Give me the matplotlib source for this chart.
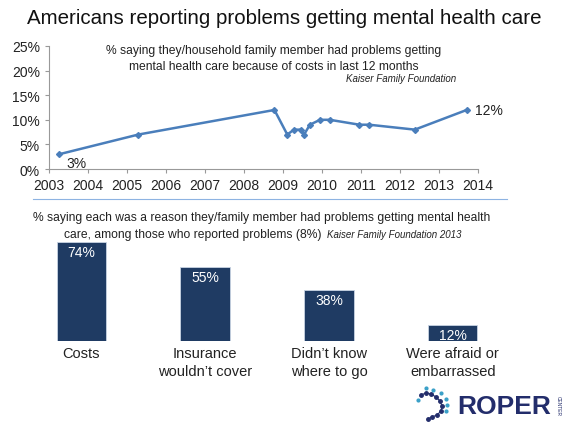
import numpy as np
import matplotlib.pyplot as plt

plt.rcParams['font.family'] = ['Liberation Sans', 'DejaVu Sans']

# line chart data (year, share)
years = [2003.26, 2005.29, 2008.78, 2009.11, 2009.28, 2009.45, 2009.54,
         2009.69, 2009.95, 2010.2, 2010.96, 2011.21, 2012.38, 2013.71]
shares = [0.03, 0.07, 0.12, 0.07, 0.08, 0.08, 0.07,
          0.09, 0.10, 0.10, 0.09, 0.09, 0.08, 0.12]
year_ticks = list(range(2003, 2015))

# bar chart data
reasons = ['Costs', 'Insurance\nwouldn\u2019t cover', 'Didn\u2019t know\nwhere to go',
           'Were afraid or\nembarrassed']
reason_pct = [74, 55, 38, 12]

line_col = '#4a7ebb'
bar_col = '#1f3b63'
navy = '#232d6b'

fig = plt.figure(figsize=(5.7, 4.27), dpi=100)
fig.patch.set_facecolor('white')

fig.text(27/570, 1 - 18/427, 'Americans reporting problems getting mental health care',
         fontsize=14.8, va='center', ha='left', color='#111111')

#line chart
ax = fig.add_axes([49/570, 1 - 170/427, 429/570, 123/427])
ax.plot(years, shares, color=line_col, lw=1.8, marker='D', ms=3, mec=line_col, mfc=line_col)
ax.set_xlim(2003, 2014)
ax.set_ylim(0, 0.25)
ax.set_xticks(year_ticks)
ax.set_yticks(np.arange(0, 0.26, 0.05))
ax.set_yticklabels([f'{int(round(v*100))}%' for v in np.arange(0, 0.26, 0.05)])
ax.tick_params(labelsize=10, length=3, color='#999999', labelcolor='#222222')
for s in ['top', 'right']:
    ax.spines[s].set_visible(False)
for s in ['left', 'bottom']:
    ax.spines[s].set_color('#999999')
ax.annotate(f'{int(shares[0]*100)}%', (years[0], shares[0]), xytext=(5, -6),
            textcoords='offset points', fontsize=10, va='center', color='#222222')
ax.annotate(f'{int(shares[-1]*100)}%', (years[-1], shares[-1]), xytext=(6, 0),
            textcoords='offset points', fontsize=10, va='center', color='#222222')
fig.text(274/570, 1 - 51/427, '% saying they/household family member had problems getting',
         fontsize=8.7, ha='center', va='center', color='#222222')
fig.text(274/570, 1 - 67/427, 'mental health care because of costs in last 12 months',
         fontsize=8.7, ha='center', va='center', color='#222222')
fig.text(456/570, 1 - 79/427, 'Kaiser Family Foundation', fontsize=7, style='italic',
         ha='right', va='center', color='#222222')

# separator line
fig.add_artist(plt.Line2D([33/570, 507/570], [1 - 200/427, 1 - 200/427],
                          color='#8db3e2', lw=0.8))

# bar chart
fig.text(262/570, 1 - 218/427,
         '% saying each was a reason they/family member had problems getting mental health',
         fontsize=8.7, ha='center', va='center', color='#222222')
fig.text(322/570, 1 - 235/427, 'care, among those who reported problems (8%)',
         fontsize=8.7, ha='right', va='center', color='#222222')
fig.text(327/570, 1 - 235/427, 'Kaiser Family Foundation 2013', fontsize=7, style='italic',
         ha='left', va='center', color='#222222')

bx = fig.add_axes([19.6/570, 1 - 342/427, 495/570, 100.5/427])
xpos = np.arange(len(reasons))
bx.bar(xpos, reason_pct, width=0.4, color=bar_col, edgecolor='#c8d3e3', lw=0.6)
bx.set_xlim(-0.5, 3.5)
bx.set_ylim(0, 75)
bx.axis('off')
for x, v, lab in zip(xpos, reason_pct, reasons):
    bx.text(x, v - 2, f'{v}%', color='white', ha='center', va='top', fontsize=10)
    bx.text(x, -4, lab, ha='center', va='top', fontsize=10.5, color='#222222',
            linespacing=1.3)

# logo
fig.text(457/570, 1 - 407/427, 'ROPER', fontsize=19, fontweight='bold', color=navy,
         ha='left', va='center')
fig.text(558/570, 1 - 406/427, 'CENTER', fontsize=3.5, rotation=-90, color=navy,
         ha='center', va='center')
lx = np.array([421, 426, 431, 436, 440, 442, 441, 437, 432, 428])
ly = np.array([396, 394, 395, 398, 402, 407, 412, 416, 418, 420])
fig.add_artist(plt.Line2D(lx/570, 1 - ly/427, color=navy, lw=0.8, marker='o', ms=2.5,
                          mfc=navy, mec=navy))
tx = np.array([418, 426, 433, 441, 446, 447, 446])
ty = np.array([401, 389, 391, 394, 400, 406, 412])
fig.add_artist(plt.Line2D(tx/570, 1 - ty/427, color='none', marker='o', ms=2,
                          mfc='#3aa0c8', mec='#3aa0c8'))

fig.savefig('out.png', dpi=100, facecolor='white')
